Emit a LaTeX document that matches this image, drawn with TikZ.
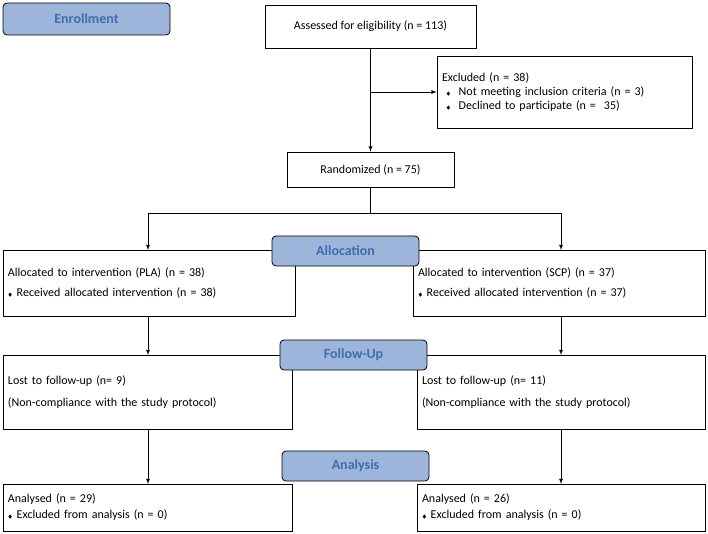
\documentclass[tikz,border=0pt]{standalone}
\usepackage{amssymb}
\usepackage{fontspec}
\setmainfont{Carlito}
\usetikzlibrary{positioning}
\definecolor{stagefill}{HTML}{9DB5DA}
\definecolor{stagetext}{HTML}{3F6DB0}
\newcommand{\bul}{{\tiny$\blacklozenge$}}
\begin{document}
\begin{tikzpicture}[x=1pt,y=-1pt,font=\fontsize{12}{14}\selectfont,
  box/.style={draw,thick,inner sep=0pt},
  stage/.style={draw,thick,rounded corners=4pt,fill=stagefill,text=stagetext,font=\fontsize{14}{16}\selectfont\bfseries,inner sep=0pt},
  arr/.style={->,>=latex,thick}]
\useasboundingbox (0,0) rectangle (708,534);
% boxes
\node[box,minimum width=211,minimum height=43] (assess) at (370.5,26.5) {Assessed for eligibility (n = 113)};
\node[box,minimum width=255,minimum height=72,align=left,text width=245] (excl) at (564.5,92)
  {Excluded (n = 38)\\ \hspace*{4pt}\bul\ \ Not meeting inclusion criteria (n = 3)\\ \hspace*{4pt}\bul\ \ Declined to participate (n = \ 35)};
\node[box,minimum width=167,minimum height=35] (rand) at (370.5,169.5) {Randomized (n = 75)};
\node[box,minimum width=292,minimum height=66,align=left,text width=282] (allocL) at (149,283)
  {Allocated to intervention (PLA) (n = 38)\\[6pt] \bul\ Received allocated intervention (n = 38)};
\node[box,minimum width=292,minimum height=66,align=left,text width=282] (allocR) at (559,283)
  {Allocated to intervention (SCP) (n = 37)\\[6pt] \bul\ Received allocated intervention (n = 37)};
\node[box,minimum width=289,minimum height=74,align=left,text width=279] (followL) at (147.5,392)
  {Lost to follow-up (n= 9)\\[8pt] (Non-compliance with the study protocol)};
\node[box,minimum width=288,minimum height=74,align=left,text width=278] (followR) at (561,392)
  {Lost to follow-up (n= 11)\\[8pt] (Non-compliance with the study protocol)};
\node[box,minimum width=289,minimum height=47,align=left,text width=279] (analL) at (147.5,507.5)
  {Analysed (n = 29)\\[2pt] \bul\ Excluded from analysis (n = 0)};
\node[box,minimum width=288,minimum height=47,align=left,text width=278] (analR) at (561,507.5)
  {Analysed (n = 26)\\[2pt] \bul\ Excluded from analysis (n = 0)};
% stage labels
\node[stage,minimum width=167,minimum height=32] (enroll) at (86.5,19) {Enrollment};
\node[stage,minimum width=147,minimum height=30] (alloc) at (345.5,251) {Allocation};
\node[stage,minimum width=147,minimum height=30] (follow) at (353.5,355) {Follow-Up};
\node[stage,minimum width=147,minimum height=30] (anal) at (355.5,466) {Analysis};
% connectors
\coordinate (split) at (370.5,213);
\coordinate (branch) at (370.5,92);
\draw[arr] (assess.south) -- (rand.north);
\draw[arr] (branch) -- (excl.west);
\draw[thick] (rand.south) -- (split);
\draw[arr] (split) -| (148,250);
\draw[arr] (split) -| (561,250);
\draw[arr] (148,316) -- (148,355);
\draw[arr] (561,316) -- (561,355);
\draw[arr] (148,429) -- (148,484);
\draw[arr] (561,429) -- (561,484);
\end{tikzpicture}
\end{document}
